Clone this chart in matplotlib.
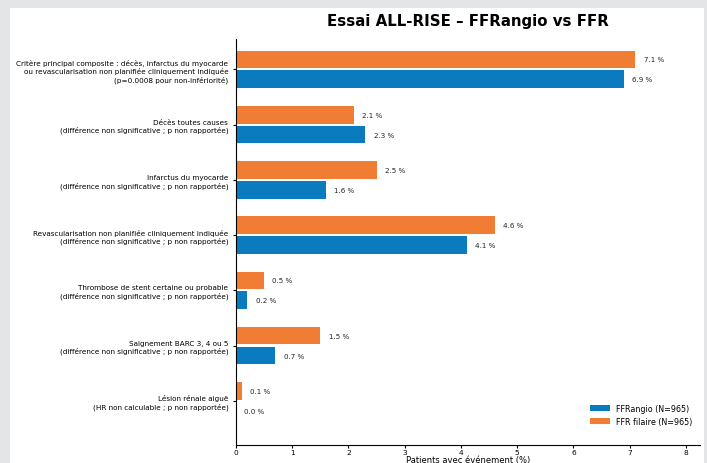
import numpy as np
import matplotlib.pyplot as plt
from matplotlib.patches import Rectangle

# Données (essai ALL-RISE)
categories = [
    "Critère principal composite : décès, infarctus du myocarde\n"
    "ou revascularisation non planifiée cliniquement indiquée\n"
    "(p=0.0008 pour non-infériorité)",
    "Décès toutes causes\n(différence non significative ; p non rapportée)",
    "Infarctus du myocarde\n(différence non significative ; p non rapportée)",
    "Revascularisation non planifiée cliniquement indiquée\n(différence non significative ; p non rapportée)",
    "Thrombose de stent certaine ou probable\n(différence non significative ; p non rapportée)",
    "Saignement BARC 3, 4 ou 5\n(différence non significative ; p non rapportée)",
    "Lésion rénale aiguë\n(HR non calculable ; p non rapportée)",
]
ffrangio = [6.9, 2.3, 1.6, 4.1, 0.2, 0.7, 0.0]
ffr_filaire = [7.1, 2.1, 2.5, 4.6, 0.5, 1.5, 0.1]
xticks = [0, 1, 2, 3, 4, 5, 6, 7, 8]

blue = "#0A7BBE"
orange = "#F07D33"

fig = plt.figure(figsize=(7.07, 4.64), dpi=100)
fig.patch.set_facecolor("#e4e5e7")
# panneau blanc
fig.patches.append(Rectangle((10 / 707, 0), 694 / 707, 1 - 9 / 464,
                             transform=fig.transFigure, facecolor="white",
                             edgecolor="none", zorder=-10))

ax = fig.add_axes([236 / 707, 1 - 446 / 464, (700 - 236) / 707, (446 - 40) / 464])
ax.set_facecolor("white")

y = np.arange(len(categories))
h = 0.32
b1 = ax.barh(y + 0.18, ffrangio, height=h, color=blue, label="FFRangio (N=965)")
b2 = ax.barh(y - 0.18, ffr_filaire, height=h, color=orange, label="FFR filaire (N=965)")

for bars, vals in [(b1, ffrangio), (b2, ffr_filaire)]:
    for bar, v in zip(bars, vals):
        ax.annotate(f"{v:.1f} %", (bar.get_width(), bar.get_y() + bar.get_height() / 2),
                    xytext=(6, 0), textcoords="offset points",
                    va="center", ha="left", fontsize=5.1, color="#222222")

ax.set_yticks(y)
ax.set_yticklabels(categories, fontsize=5.2)
ax.set_ylim(6.8, -0.55)
ax.set_xlim(0, 8.25)
ax.set_xticks(xticks)
ax.tick_params(axis="x", labelsize=5.3, length=2.5, pad=0.5)
ax.tick_params(axis="y", length=2.5, pad=3)
ax.set_xlabel("Patients avec événement (%)", fontsize=6.0)
ax.xaxis.set_label_coords(0.5, -0.0255)
ax.spines["top"].set_visible(False)
ax.spines["right"].set_visible(False)

ax.set_title("Essai ALL-RISE – FFRangio vs FFR", fontsize=10.8, fontweight="bold", pad=10)

ax.legend(loc="lower right", fontsize=5.8, frameon=False, handlelength=2.5,
          bbox_to_anchor=(1.0, 0.03))

fig.savefig("out.png", dpi=100, facecolor=fig.get_facecolor())
